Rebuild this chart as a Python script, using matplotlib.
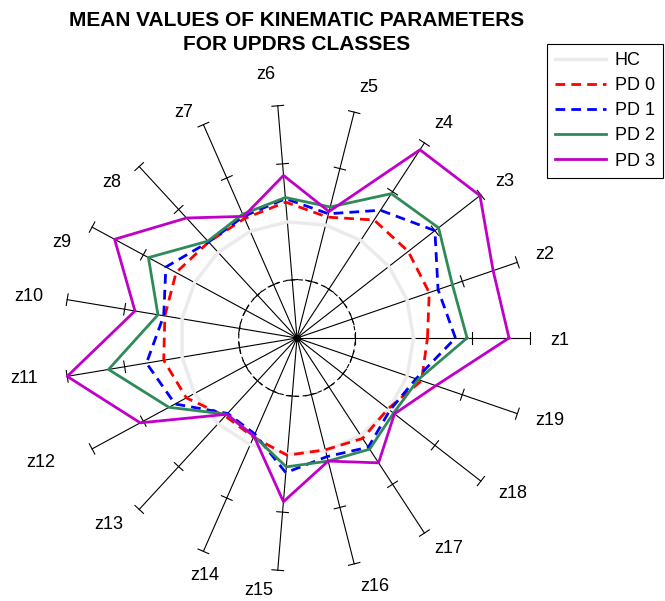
import numpy as np
import matplotlib
matplotlib.use('Agg')
import matplotlib.pyplot as plt

plt.rcParams['font.family'] = ['Liberation Sans', 'DejaVu Sans']

# Kinematic parameters z1..z19, values normalised to healthy controls
params = ['z%d' % i for i in range(1, 20)]
hc = [1.00, 1.00, 1.00, 1.00, 1.00, 1.00, 1.00, 1.00, 1.00, 1.00,
      1.00, 1.00, 1.00, 1.00, 1.00, 1.00, 1.00, 1.00, 1.00]
pd0 = [1.12, 1.20, 1.21, 1.21, 1.07, 1.17, 1.12, 1.12, 1.18, 1.15,
       1.16, 1.08, 0.91, 0.93, 1.01, 0.99, 1.03, 0.99, 1.13]
pd1 = [1.36, 1.28, 1.50, 1.31, 1.10, 1.20, 1.14, 1.12, 1.28, 1.16,
       1.31, 1.19, 0.88, 0.90, 1.16, 1.05, 1.12, 1.01, 1.08]
pd2 = [1.46, 1.41, 1.54, 1.48, 1.16, 1.21, 1.16, 1.13, 1.45, 1.21,
       1.64, 1.25, 0.89, 0.92, 1.11, 1.09, 1.14, 1.05, 1.10]
pd3 = [1.82, 1.78, 1.99, 1.93, 1.12, 1.40, 1.14, 1.40, 1.78, 1.41,
       2.00, 1.53, 0.89, 0.92, 1.41, 1.09, 1.28, 1.06, 1.26]
axis_ticks = [0.5, 1.5, 2.0]
axis_max = 2.0

W, H = 665, 601
cx, cy = 297, 338      # centre in pixels (from top-left)
unit = 116.5           # pixels per unit

# label nudges (pixels, x right / y down) relative to the radial spot
label_nudge = [(1, 2), (0, 2), (1, 5), (3, 5), (7, 4), (-10, -2), (-8, 15),
               (-8, 37), (-5, 29), (-10, 2), (-14, -3), (-26, 0), (-11, -6),
               (13, -3), (-17, -9), (13, -6), (8, -9), (9, -6), (5, -3)]

fig = plt.figure(figsize=(W / 100, H / 100), dpi=100)
ax = fig.add_axes([0, 0, 1, 1])
ax.set_xlim(-cx / unit, (W - cx) / unit)
ax.set_ylim(-(H - cy) / unit, cy / unit)
ax.axis('off')

n = len(params)
ang = np.arange(n) * 2 * np.pi / n
ca, sa = np.cos(ang), np.sin(ang)

# spokes with tick marks
tick_half = 0.05
for i in range(n):
    ax.plot([0, axis_max * ca[i]], [0, axis_max * sa[i]], color='black', lw=0.8, zorder=2)
    for t in axis_ticks:
        px, py = t * ca[i], t * sa[i]
        ax.plot([px - tick_half * sa[i], px + tick_half * sa[i]],
                [py + tick_half * ca[i], py - tick_half * ca[i]],
                color='black', lw=0.8, zorder=2)
    nx, ny = label_nudge[i]
    ax.annotate(params[i], (2.25 * ca[i], 2.25 * sa[i]),
                xytext=(nx * 0.72, -ny * 0.72), textcoords='offset points',
                fontsize=13, ha='center', va='center')

# dashed inner ring
th = np.linspace(0, 2 * np.pi, 200)
ax.plot(0.5 * np.cos(th), 0.5 * np.sin(th), color='black', lw=0.8,
        linestyle=(0, (4, 3)), zorder=2)


def closed(vals):
    v = np.array(vals)
    x = np.append(v * ca, v[0] * ca[0])
    y = np.append(v * sa, v[0] * sa[0])
    return x, y


series = [
    ('HC', hc, dict(color='#ebebeb', lw=2.5, linestyle='-')),
    ('PD 0', pd0, dict(color='#ff0000', lw=2, linestyle=(0, (3.5, 2.2)))),
    ('PD 1', pd1, dict(color='#0000ff', lw=2, linestyle=(0, (3.5, 2.2)))),
    ('PD 2', pd2, dict(color='#2e8b57', lw=2, linestyle='-')),
    ('PD 3', pd3, dict(color='#c000c8', lw=2, linestyle='-')),
]
handles = []
for name, vals, style in series:
    x, y = closed(vals)
    h, = ax.plot(x, y, label=name, zorder=3, **style)
    handles.append(h)

ax.plot([0], [0], 'ko', ms=4, zorder=4)

fig.text(cx / W, 1 - 20 / H, 'MEAN VALUES OF KINEMATIC PARAMETERS',
         ha='center', va='center', fontsize=15, fontweight='bold')
fig.text(cx / W, 1 - 45 / H, 'FOR UPDRS CLASSES',
         ha='center', va='center', fontsize=15, fontweight='bold')

leg = fig.legend(handles=handles, loc='upper left',
                 bbox_to_anchor=(547 / W, 1 - 44 / H), bbox_transform=fig.transFigure,
                 fontsize=13, handlelength=2.8, labelspacing=0.45, borderpad=0.45,
                 handletextpad=0.5, borderaxespad=0, fancybox=False, framealpha=1)
leg.get_frame().set_edgecolor('black')
leg.get_frame().set_linewidth(0.8)

fig.savefig('out.png', dpi=100)
